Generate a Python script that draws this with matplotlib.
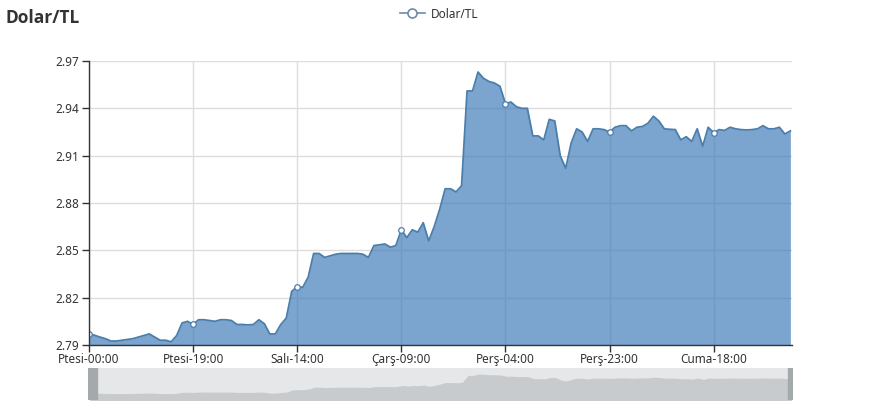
import matplotlib.pyplot as plt
import numpy as np

# hourly quotes, Monday 00:00 onwards
usd_try = [
    2.797, 2.7962, 2.795, 2.794, 2.7925, 2.7925, 2.793, 2.7935, 2.794, 2.795,
    2.796, 2.797, 2.795, 2.793, 2.793, 2.792, 2.796, 2.804, 2.805, 2.803,
    2.806, 2.806, 2.8055, 2.805, 2.806, 2.806, 2.8055, 2.803, 2.803, 2.8027,
    2.803, 2.806, 2.8035, 2.797, 2.797, 2.803, 2.807, 2.824, 2.827, 2.8265,
    2.833, 2.848, 2.848, 2.8455, 2.8465, 2.8475, 2.848, 2.848, 2.848, 2.848,
    2.8475, 2.8455, 2.853, 2.8535, 2.854, 2.852, 2.853, 2.863, 2.858, 2.863,
    2.8615, 2.8675, 2.856, 2.865, 2.876, 2.889, 2.889, 2.887, 2.891, 2.951,
    2.951, 2.963, 2.959, 2.957, 2.956, 2.954, 2.943, 2.944, 2.941, 2.940,
    2.940, 2.9225, 2.9225, 2.920, 2.933, 2.932, 2.910, 2.902, 2.918, 2.927,
    2.925, 2.919, 2.927, 2.927, 2.9265, 2.925, 2.928, 2.929, 2.929, 2.9257,
    2.928, 2.9285, 2.9305, 2.935, 2.932, 2.927, 2.9267, 2.9265, 2.920, 2.922,
    2.919, 2.927, 2.916, 2.928, 2.9245, 2.9265, 2.926, 2.928, 2.927, 2.9265,
    2.9263, 2.9265, 2.927, 2.929, 2.927, 2.927, 2.928, 2.9237, 2.9257,
]
tick_labels = ['Ptesi-00:00', 'Ptesi-19:00', 'Salı-14:00', 'Çarş-09:00',
               'Perş-04:00', 'Perş-23:00', 'Cuma-18:00']
y_ticks = [2.79, 2.82, 2.85, 2.88, 2.91, 2.94, 2.97]
label_step = 19

plt.rcParams['font.family'] = ['Noto Sans', 'DejaVu Sans']

line_color = '#4a7eab'
fill_color = '#3c7ab8'
text_color = '#333333'

x = np.arange(len(usd_try))
y = np.array(usd_try)

fig = plt.figure(figsize=(8.8, 4.04), dpi=100)
ax = fig.add_axes([89 / 880, 1 - 345 / 404, 703 / 880, 284 / 404])

ax.fill_between(x, y_ticks[0], y, color=fill_color, alpha=0.68, lw=0, zorder=2)
ax.plot(x, y, color=line_color, lw=1.3, zorder=3)
mk = x[::label_step]
ax.plot(mk, y[mk], ls='none', marker='o', ms=4, mfc='white', mec=line_color,
        mew=0.9, zorder=4)

ax.set_xlim(0, len(usd_try) - 1 + 0.3)
ax.set_ylim(y_ticks[0], y_ticks[-1])
ax.set_yticks(y_ticks)
ax.set_yticklabels([f'{v:.2f}' for v in y_ticks])
ax.set_xticks(x[::label_step][:len(tick_labels)])
ax.set_xticklabels(tick_labels)
ax.grid(True, color='#dddddd', lw=1, zorder=1)
ax.set_axisbelow(True)

for side in ('top', 'right'):
    ax.spines[side].set_visible(False)
for side in ('left', 'bottom'):
    ax.spines[side].set_color(text_color)
    ax.spines[side].set_linewidth(1)
    ax.spines[side].set_zorder(5)
ax.tick_params(colors=text_color, labelsize=8.5, length=5, width=1, pad=2)
ax.tick_params(axis='x', pad=1)

# legend and title
fig.text(5 / 880, 1 - 18 / 404, 'Dolar/TL', fontsize=12.5, fontweight='bold',
         family=['Open Sans', 'DejaVu Sans'],
         color=text_color, va='center', ha='left')
fig.add_artist(plt.Line2D([400 / 880, 425 / 880], [1 - 13 / 404] * 2,
                          color='#6e8ca8', lw=1.2))
fig.add_artist(plt.Line2D([412 / 880], [1 - 13 / 404], marker='o', ms=6.5,
                          mfc='white', mec='#6e8ca8', mew=1.2))
fig.text(431 / 880, 1 - 14 / 404, 'Dolar/TL', fontsize=8.5, color=text_color,
         va='center', ha='left')

# data zoom slider
sl = fig.add_axes([88 / 880, 1 - 400 / 404, 705 / 880, 32 / 404])
sl.set_facecolor('#e5e7e8')
sl.fill_between(x, 2.70, y, color='#c8cbcd', lw=0)
sl.set_xlim(-0.3, len(usd_try) - 1 + 0.3)
sl.set_ylim(2.737, 3.015)
sl.axvspan(-0.3, 1.3, color='#a4aaac', zorder=3)
sl.axvspan(len(usd_try) - 1.6, len(usd_try) - 0.7, color='#a4aaac', zorder=3)
sl.set_xticks([])
sl.set_yticks([])
for s in sl.spines.values():
    s.set_visible(False)

fig.savefig('out.png', dpi=100)
